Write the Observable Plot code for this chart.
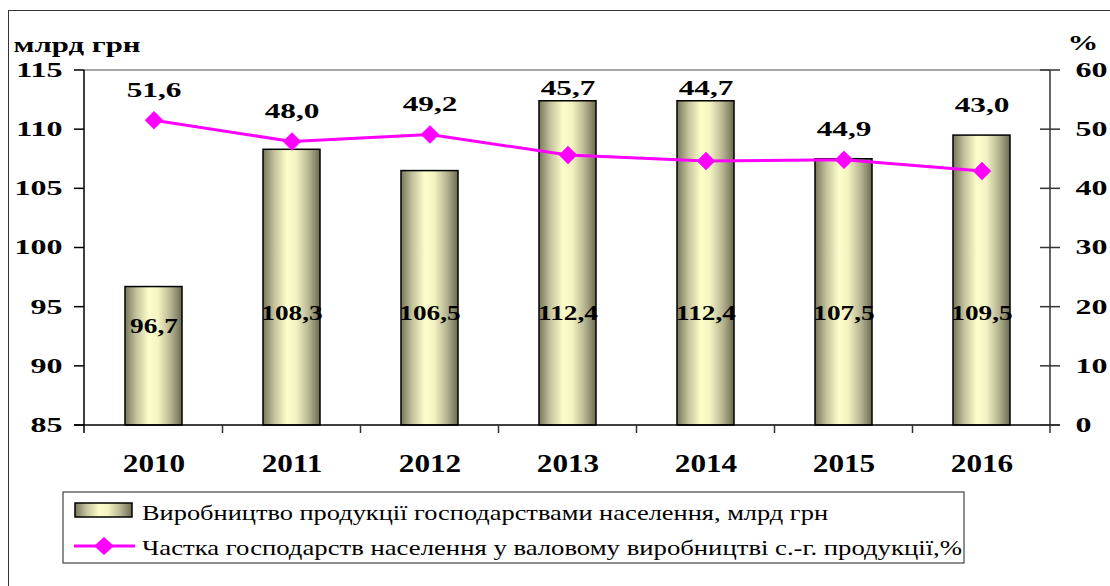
<!DOCTYPE html>
<html><head><meta charset="utf-8">
<script src="https://cdn.jsdelivr.net/npm/d3@7"></script>
<script src="https://cdn.jsdelivr.net/npm/@observablehq/plot@0.6"></script>
<style>
body{margin:0;background:#fff;}
#wrap{position:relative;width:1110px;height:586px;overflow:hidden;background:#fff;}
#frame{position:absolute;left:8px;top:10px;width:1200px;height:700px;border-left:1.5px solid #333;border-top:1.5px solid #333;}
#chart{position:absolute;left:0;top:0;}
#legend{position:absolute;left:0;top:480px;}
</style></head><body>
<div id="wrap"><div id="frame"></div><div id="chart"></div><div id="legend"></div></div>
<script>
const years = ["2010", "2011", "2012", "2013", "2014", "2015", "2016"];
const production = [96.7, 108.3, 106.5, 112.4, 112.4, 107.5, 109.5];
const share = [51.6, 48.0, 49.2, 45.7, 44.7, 44.9, 43.0];
const leftTicks = [85, 90, 95, 100, 105, 110, 115];
const rightTicks = [0, 10, 20, 30, 40, 50, 60];
const barSeriesName = "Виробництво продукції господарствами населення, млрд грн";
const lineSeriesName = "Частка господарств населення у валовому виробництві с.-г. продукції,%";
const leftUnit = "млрд грн";
const rightUnit = "%";

const yMin = 85, yMax = 115, rMin = 0, rMax = 60;
const toLeft = v => yMin + (v - rMin) / (rMax - rMin) * (yMax - yMin);
const fmt = v => v.toFixed(1).replace(".", ",");
const data = years.map((year, i) => ({year, value: production[i], share: share[i], shareY: toLeft(share[i])}));

const FONT = "'Liberation Serif', 'Times New Roman', serif";

function frameLines(index, scales, values, dims) {
  const {width, height, marginTop: t, marginBottom: b, marginLeft: l, marginRight: r} = dims;
  const x0 = l, x1 = width - r, y0 = t, y1 = height - b;
  const g = d3.create("svg:g");
  const line = (xa, ya, xb, yb, stroke, w) => g.append("line")
    .attr("x1", xa).attr("y1", ya).attr("x2", xb).attr("y2", yb)
    .attr("stroke", stroke).attr("stroke-width", w);
  line(x0, y0, x1, y0, "#888", 1.5);
  line(x0, y0, x0, y1 + 8, "#000", 1.5);
  line(x1, y0, x1, y1 + 8, "#333", 1.5);
  line(x0 - 10, y1, x1 + 10, y1, "#000", 1.5);
  const ys = scales.y;
  leftTicks.forEach(tk => {
    const y = ys(tk);
    line(x0 - 10, y, x0, y, "#000", 1.5);
    line(x1 - 10, y, x1 + 10, y, "#333", 1.5);
  });
  const xs = scales.x;
  const step = xs.step ? xs.step() : (x1 - x0) / years.length;
  const bw = xs.bandwidth ? xs.bandwidth() : step * 0.41;
  for (let i = 1; i < years.length; ++i) {
    const bx = xs(years[i]) - (step - bw) / 2;
    line(bx, y1, bx, y1 + 8, "#333", 1.5);
  }
  return g.node();
}

const chart = Plot.plot({
  width: 1110,
  height: 480,
  marginTop: 70,
  marginBottom: 55,
  marginLeft: 84,
  marginRight: 60,
  style: {fontFamily: FONT, fontWeight: "bold", background: "transparent", color: "#000"},
  x: {domain: years, paddingInner: 0.59, paddingOuter: 0.295, label: null},
  y: {domain: [yMin, yMax], label: null},
  marks: [
    Plot.barY(data, {x: "year", y1: yMin, y2: "value", fill: "url(#barGrad)", stroke: "#000", strokeWidth: 1.5}),
    frameLines,
    Plot.line(data, {x: "year", y: "shareY", stroke: "#ff00ff", strokeWidth: 3}),
    Plot.dot(data, {x: "year", y: "shareY", symbol: "diamond2", r: 8.1, fill: "#ff00ff", stroke: "#ff00ff", strokeWidth: 0.5}),
    Plot.text(data, {x: "year", y: d => Math.min(94.5, d.value - 3.3), text: d => fmt(d.value), fontSize: 21, fontWeight: "bold", fill: "#000", ariaDescription: "bar-label"}),
    Plot.text(data, {x: "year", y: d => Math.min(Math.max(d.value, d.shareY) + 2.55, 113.5), text: d => fmt(d.share), fontSize: 22, fontWeight: "bold", fill: "#000", ariaDescription: "line-label"}),
    Plot.axisY(leftTicks, {anchor: "left", tickSize: 0, tickPadding: 22, fontSize: 20, fontWeight: "bold", label: null}),
    Plot.axisY(leftTicks, {anchor: "right", tickSize: 0, tickPadding: 25, fontSize: 20, fontWeight: "bold", label: null,
      tickFormat: d => String(rightTicks[leftTicks.indexOf(d)])}),
    Plot.axisX({tickSize: 0, tickPadding: 28, fontSize: 26, fontWeight: "bold", label: null}),
    Plot.text([leftUnit], {frameAnchor: "top-left", textAnchor: "start", dx: -71, dy: -34, fontSize: 22, fontWeight: "bold", ariaDescription: "unit-label"}),
    Plot.text([rightUnit], {frameAnchor: "top-right", textAnchor: "start", dx: 17, dy: -36, fontSize: 22, fontWeight: "bold", ariaDescription: "unit-label"})
  ]
});

function addGradient(svgNode, id) {
  const ns = "http://www.w3.org/2000/svg";
  const defs = document.createElementNS(ns, "defs");
  const lg = document.createElementNS(ns, "linearGradient");
  lg.setAttribute("id", id);
  lg.setAttribute("x1", "0"); lg.setAttribute("x2", "1"); lg.setAttribute("y1", "0"); lg.setAttribute("y2", "0");
  [["0%", "#78775a"], ["20%", "#c4c39c"], ["42%", "#fdfdcb"], ["58%", "#f4f3c2"], ["80%", "#b7b692"], ["100%", "#6c6b52"]].forEach(([o, c]) => {
    const s = document.createElementNS(ns, "stop");
    s.setAttribute("offset", o); s.setAttribute("stop-color", c);
    lg.appendChild(s);
  });
  defs.appendChild(lg);
  svgNode.insertBefore(defs, svgNode.firstChild);
}
addGradient(chart, "barGrad");
document.getElementById("chart").appendChild(chart);

function stretch(nodes, k) {
  nodes.forEach(t => {
    const L = t.getComputedTextLength();
    if (L > 0) {
      t.setAttribute("textLength", (L * k).toFixed(1));
      t.setAttribute("lengthAdjust", "spacingAndGlyphs");
    }
  });
}
stretch(chart.querySelectorAll('g[aria-label="y-axis tick label"] text'), 1.6);
stretch(chart.querySelectorAll('g[aria-label="x-axis tick label"] text'), 1.2);
stretch(chart.querySelectorAll('g[aria-description="bar-label"] text'), 1.3);
stretch(chart.querySelectorAll('g[aria-description="line-label"] text'), 1.42);
stretch(chart.querySelectorAll('g[aria-description="unit-label"] text'), 1.4);

// legend
const L = d3.create("svg").attr("width", 1110).attr("height", 106).style("font-family", FONT);
addGradient(L.node(), "legGrad");
L.append("rect").attr("x", 63).attr("y", 12).attr("width", 901).attr("height", 71)
  .attr("fill", "#fff").attr("stroke", "#444").attr("stroke-width", 1.2);
L.append("rect").attr("x", 75).attr("y", 23).attr("width", 57).attr("height", 14)
  .attr("fill", "url(#legGrad)").attr("stroke", "#000").attr("stroke-width", 1.5);
L.append("text").attr("x", 142).attr("y", 40).attr("font-size", 21).attr("fill", "#000")
  .attr("textLength", 686).attr("lengthAdjust", "spacingAndGlyphs").text(barSeriesName);
L.append("line").attr("x1", 74).attr("x2", 135).attr("y1", 66).attr("y2", 66)
  .attr("stroke", "#ff00ff").attr("stroke-width", 3);
L.append("path").attr("d", "M104,57L114,66L104,75L94,66Z").attr("fill", "#ff00ff");
L.append("text").attr("x", 142).attr("y", 75).attr("font-size", 21).attr("fill", "#000")
  .attr("textLength", 820).attr("lengthAdjust", "spacingAndGlyphs").text(lineSeriesName);
document.getElementById("legend").appendChild(L.node());
</script>
</body></html>
